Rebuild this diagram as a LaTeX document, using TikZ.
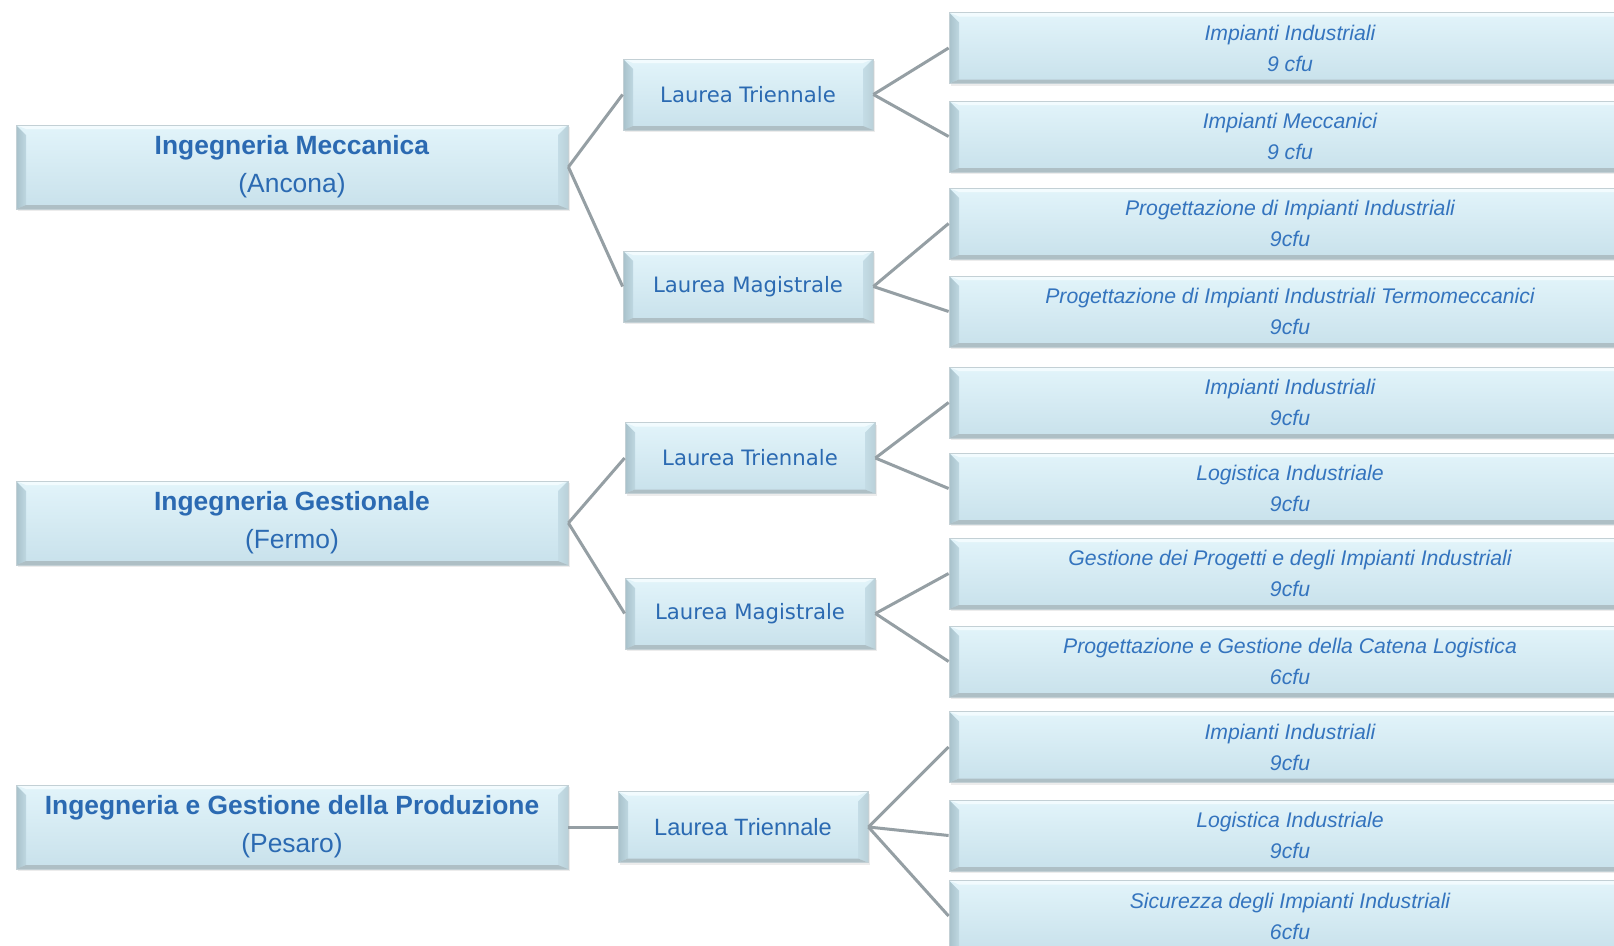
\documentclass[tikz,border=0pt]{standalone}
\usepackage{fontspec}
\setmainfont{Liberation Sans}
\newfontfamily\dvfont{DejaVu Sans}
\usetikzlibrary{shadows}

\definecolor{txtblue}{HTML}{2B6AB2}
\definecolor{txtblueL}{HTML}{3474BE}
\definecolor{conn}{HTML}{959FA4}
\definecolor{boxtop}{HTML}{E2F4FA}
\definecolor{boxbot}{HTML}{C8E1EB}
\definecolor{bevl}{HTML}{A8C1CA}
\definecolor{bevr}{HTML}{BAD1D9}
\definecolor{bevb}{HTML}{AEBFC5}
\definecolor{bevt}{HTML}{F2FBFE}
\definecolor{boxline}{HTML}{C3D0D5}

\tikzset{
  bev/.style={rectangle, inner sep=0pt, align=center,
    top color=boxtop, bottom color=boxbot, draw=boxline, line width=0.8pt,
    drop shadow={opacity=0.15, shadow xshift=2pt, shadow yshift=-2pt},
    path picture={
      \fill[bevt] (path picture bounding box.north west) -- (path picture bounding box.north east)
        -- ([shift={(-10pt,-4pt)}]path picture bounding box.north east)
        -- ([shift={(10pt,-4pt)}]path picture bounding box.north west) -- cycle;
      \shade[left color=bevl, right color=bevl!30!boxbot]
        (path picture bounding box.north west) -- ([shift={(10pt,-10pt)}]path picture bounding box.north west)
        -- ([shift={(10pt,4pt)}]path picture bounding box.south west)
        -- (path picture bounding box.south west) -- cycle;
      \shade[right color=bevr, left color=bevr!30!boxbot]
        (path picture bounding box.north east) -- ([shift={(-10pt,-10pt)}]path picture bounding box.north east)
        -- ([shift={(-10pt,4pt)}]path picture bounding box.south east)
        -- (path picture bounding box.south east) -- cycle;
      \fill[bevb] (path picture bounding box.south west) -- (path picture bounding box.south east)
        -- ([shift={(-10pt,4pt)}]path picture bounding box.south east)
        -- ([shift={(10pt,4pt)}]path picture bounding box.south west) -- cycle;
    }},
  lone/.style={bev, minimum width=552pt, minimum height=84pt, text=txtblue,
    font=\fontsize{26.4}{38}\selectfont},
  ltwo/.style={bev, minimum width=250pt, minimum height=71pt, text=txtblue,
    font=\dvfont\fontsize{21.2}{26}\selectfont},
  ltwob/.style={bev, minimum width=250pt, minimum height=71pt, text=txtblue,
    font=\fontsize{23.6}{28}\selectfont},
  lthree/.style={bev, minimum width=682pt, minimum height=71pt, text=txtblueL,
    font=\itshape\fontsize{21.2}{31}\selectfont},
  conline/.style={draw=conn, line width=3pt},
}

\begin{document}
\begin{tikzpicture}[x=1pt,y=-1pt]
\useasboundingbox (0,0) rectangle (1614,945);
\fill[white] (0,0) rectangle (1614,945);
\clip (0,0) rectangle (1614,945);

% level 1
\node[lone] (im)  at (292,167) {\textbf{Ingegneria Meccanica}\\(Ancona)};
\node[lone] (ig)  at (292,523) {\textbf{Ingegneria Gestionale}\\(Fermo)};
\node[lone] (igp) at (292,827) {\textbf{Ingegneria e Gestione della Produzione}\\(Pesaro)};

% level 2
\node[ltwo]  (lt1) at (748,94.5)  {Laurea Triennale};
\node[ltwo]  (lm1) at (748,286.5) {Laurea Magistrale};
\node[ltwo]  (lt2) at (750,458)   {Laurea Triennale};
\node[ltwo]  (lm2) at (750,613.5) {Laurea Magistrale};
\node[ltwob] (lt3) at (743,827)   {Laurea Triennale};

% level 3
\node[lthree] (c1)  at (1290,48)    {Impianti Industriali\\9 cfu};
\node[lthree] (c2)  at (1290,136.5) {Impianti Meccanici\\9 cfu};
\node[lthree] (c3)  at (1290,223.5) {Progettazione di Impianti Industriali\\9cfu};
\node[lthree] (c4)  at (1290,311.5) {Progettazione di Impianti Industriali Termomeccanici\\9cfu};
\node[lthree] (c5)  at (1290,402.5) {Impianti Industriali\\9cfu};
\node[lthree] (c6)  at (1290,488.5) {Logistica Industriale\\9cfu};
\node[lthree] (c7)  at (1290,573.5) {Gestione dei Progetti e degli Impianti Industriali\\9cfu};
\node[lthree] (c8)  at (1290,661.5) {Progettazione e Gestione della Catena Logistica\\6cfu};
\node[lthree] (c9)  at (1290,747)   {Impianti Industriali\\9cfu};
\node[lthree] (c10) at (1290,835.5) {Logistica Industriale\\9cfu};
\node[lthree] (c11) at (1290,916)   {Sicurezza degli Impianti Industriali\\6cfu};

% connectors
\draw[conline] (im.east) -- (lt1.west);
\draw[conline] (im.east) -- (lm1.west);
\draw[conline] (ig.east) -- (lt2.west);
\draw[conline] (ig.east) -- (lm2.west);
\draw[conline] (igp.east) -- (lt3.west);

\draw[conline] (lt1.east) -- (c1.west);
\draw[conline] (lt1.east) -- (c2.west);
\draw[conline] (lm1.east) -- (c3.west);
\draw[conline] (lm1.east) -- (c4.west);
\draw[conline] (lt2.east) -- (c5.west);
\draw[conline] (lt2.east) -- (c6.west);
\draw[conline] (lm2.east) -- (c7.west);
\draw[conline] (lm2.east) -- (c8.west);
\draw[conline] (lt3.east) -- (c9.west);
\draw[conline] (lt3.east) -- (c10.west);
\draw[conline] (lt3.east) -- (c11.west);
\end{tikzpicture}
\end{document}
